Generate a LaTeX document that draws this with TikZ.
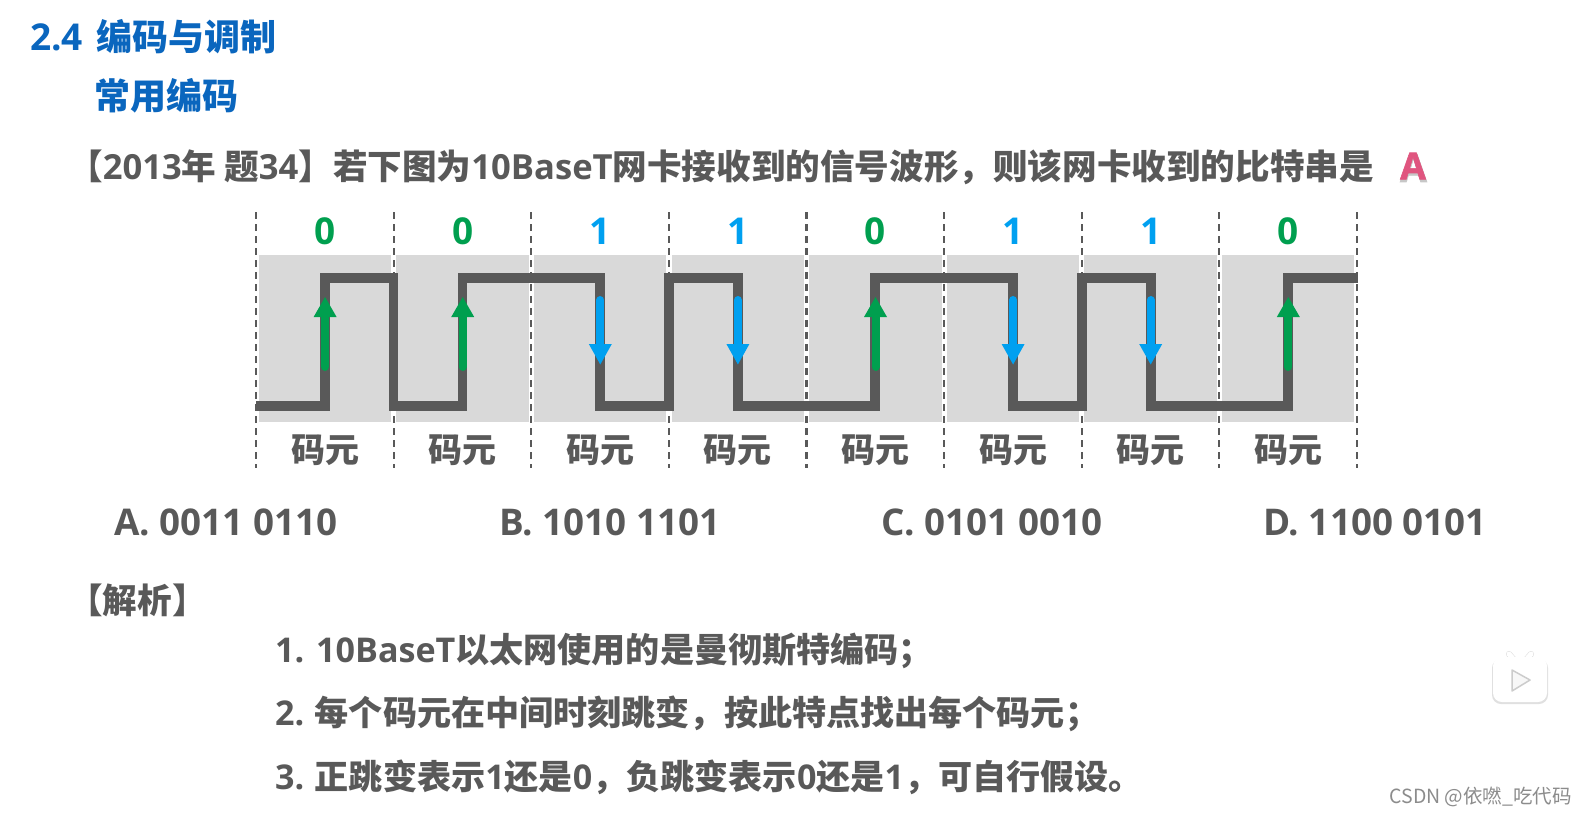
\documentclass[tikz,border=0pt]{standalone}
\usepackage{fontspec}
\setmainfont{Noto Sans CJK SC}
\newfontfamily\lat{Open Sans}
\newfontfamily\fatlat[BoldFeatures={FakeBold=1.5}]{Open Sans}
\newfontfamily\wm{Noto Sans CJK SC}
\newcommand{\la}[1]{{\lat #1}}
\definecolor{txt}{HTML}{595959}
\definecolor{ttl}{HTML}{0A66BE}
\definecolor{grn}{HTML}{009F4F}
\definecolor{blu}{HTML}{00A0F0}
\definecolor{cell}{HTML}{D9D9D9}
\definecolor{pnk}{HTML}{E0557F}
\tikzset{
  x=1pt,y=-1pt,
  tx/.style={anchor=west,inner sep=0pt,text=txt,font=\fontsize{34.1}{34.1}\selectfont\bfseries},
  qtx/.style={anchor=west,inner sep=0pt,text=txt,font=\fontsize{34.6}{34.6}\selectfont\bfseries},
  ttltx/.style={anchor=west,inner sep=0pt,text=ttl,font=\fontsize{36}{36}\selectfont\bfseries},
  opt/.style={anchor=west,inner sep=0pt,text=txt,font=\fontsize{36.8}{36.8}\selectfont\bfseries\lat},
  bit/.style={inner sep=0pt,font=\fontsize{37}{37}\selectfont\bfseries\lat},
  sym/.style={inner sep=0pt,text=txt,font=\fontsize{34}{34}\selectfont\bfseries},
  wave/.style={draw=txt,line width=9.5pt,line join=miter},
  sep/.style={draw=txt,line width=2.2pt,dash pattern=on 7pt off 5pt},
  jumpline/.style={line width=8pt,line cap=round},
}
\begin{document}
\begin{tikzpicture}
\useasboundingbox (0,0) rectangle (1586,815);
\fill[white] (0,0) rectangle (1586,815);
% cells
\foreach \i in {0,...,7}{
  \pgfmathsetmacro{\xa}{256+137.6*\i}
  \fill[cell] ({\xa+2.8},255) rectangle ({\xa+135.2},422);
}
% wave
\draw[wave] (256,406) -- (325,406) -- (325,278) -- (393.6,278) -- (393.6,406) -- (462.5,406) -- (462.5,278)
 -- (600,278) -- (600,406) -- (669,406) -- (669,278) -- (738,278) -- (738,406) -- (875,406) -- (875,278)
 -- (1013,278) -- (1013,406) -- (1082,406) -- (1082,278) -- (1151,278) -- (1151,406) -- (1288,406) -- (1288,278) -- (1358,278);
% separators
\foreach \i in {0,...,8}{
  \pgfmathsetmacro{\xa}{256+137.6*\i}
  \draw[sep] (\xa,212) -- (\xa,468);
}
% jumps and labels
\foreach \i/\b in {0/0,1/0,2/1,3/1,4/0,5/1,6/1,7/0}{
  \pgfmathsetmacro{\xm}{256.3+137.6*\i+68.8}
  \ifnum\b=0
    \draw[jumpline,draw=grn] (\xm,367) -- (\xm,312);
    \fill[grn] (\xm,297) -- ({\xm+11.5},317) -- ({\xm-11.5},317) -- cycle;
    \node[bit,text=grn] (b\i) at (\xm,231) {0};
  \else
    \draw[jumpline,draw=blu] (\xm,300) -- (\xm,350);
    \fill[blu] (\xm,364.5) -- ({\xm+11.5},344) -- ({\xm-11.5},344) -- cycle;
    \node[bit,text=blu] (b\i) at (\xm,231) {1};
  \fi
  \node[sym] (m\i) at (\xm,450) {码元};
}
% headings
\node[ttltx] (h1) at (30,37) {{\fontsize{37}{37}\selectfont\la{2.4}}\hspace{14pt}编码与调制};
\node[ttltx] (h2) at (94,96) {常用编码};
\node[qtx] (q) at (68,167) {【\la{2013}年 题\la{34}】若下图为\la{10BaseT}网卡接收到的信号波形，则该网卡收到的比特串是};
% answer
\node[inner sep=0pt,text=black!22,font=\fontsize{39}{39}\selectfont\bfseries\fatlat] (a0) at (1413.5,168) {A};
\node[inner sep=0pt,text=pnk,font=\fontsize{37}{37}\selectfont\bfseries\fatlat] (a1) at (1413,166) {A};
% options
\node[opt] (oa) at (114,522) {A. 0011 0110};
\node[opt] (ob) at (499,522) {B. 1010 1101};
\node[opt] (oc) at (881,522) {C. 0101 0010};
\node[opt] (od) at (1263,522) {D. 1100 0101};
% analysis
\node[qtx] (an) at (68,600) {【解析】};
\node[tx] (l1) at (275,651) {\la{1. 10BaseT}以太网使用的是曼彻斯特编码；};
\node[tx] (l2) at (275,714) {\la{2.} 每个码元在中间时刻跳变，按此特点找出每个码元；};
\node[tx] (l3) at (275,777) {\la{3.} 正跳变表示\la{1}还是\la{0}，负跳变表示\la{0}还是\la{1}，可自行假设。};
% player badge
\draw[black!14,line width=6pt,line cap=round] (1509,654) -- (1515,661);
\draw[black!14,line width=6pt,line cap=round] (1531,654) -- (1525,661);
\fill[black!12,rounded corners=9pt] (1492,659) rectangle (1548,704);
\draw[white,line width=5pt,line cap=round] (1509,654) -- (1515,661);
\draw[white,line width=5pt,line cap=round] (1531,654) -- (1525,661);
\fill[white,rounded corners=9pt] (1493,657) rectangle (1547,702);
\draw[black!20,line width=1.5pt,line join=round,fill=black!3] (1512,670) -- (1530,680) -- (1512,691) -- cycle;
% watermark
\node[anchor=east,inner sep=0pt,text=black!45,font=\fontsize{19.5}{19.5}\selectfont\wm] (w) at (1572,797) {CSDN @依嘫\_吃代码};
\end{tikzpicture}
\end{document}
